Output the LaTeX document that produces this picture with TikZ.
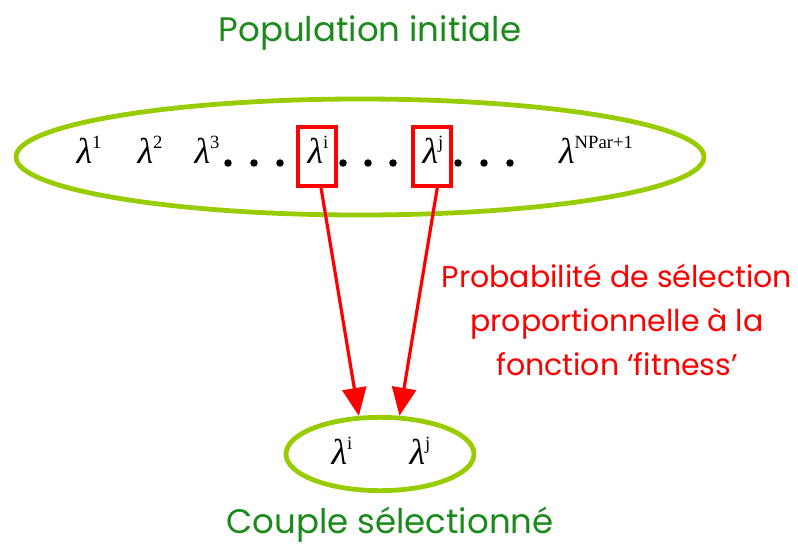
\documentclass[tikz,border=0pt]{standalone}
\usepackage{fontspec}
\setmainfont{Poppins}
\newfontfamily\lamfont{Liberation Serif}
\usetikzlibrary{positioning, arrows.meta, shapes.geometric, calc}
\definecolor{popgreen}{HTML}{1A8A1A}
\definecolor{ellgreen}{HTML}{99CC00}
\definecolor{selred}{HTML}{FF0000}

\newcommand{\lmb}[1]{{\lamfont\itshape λ}\raisebox{0.4em}{\lamfont\fontsize{14}{14}\selectfont #1}}

\begin{document}
\begin{tikzpicture}[
    x=0.75pt, y=-0.75pt,
    >=Stealth,
    every node/.style={inner sep=0pt},
    title/.style={font=\fontsize{25.5}{30}\selectfont, text=popgreen},
    popell/.style={
      ellipse, draw=ellgreen, line width=3.6pt, fill=none
    },
    lam/.style={anchor=base, font=\lamfont\fontsize{27}{30}\selectfont},
    pt/.style={circle, fill=black, minimum size=5.6pt},
    selbox/.style={
      rectangle, draw=selred, line width=2.6pt,
      minimum width=28.5pt, minimum height=44pt
    },
    selarr/.style={-{Triangle[length=21pt, width=18pt]}, line width=2.4pt, selred},
    note/.style={font=\fontsize{22.5}{33}\selectfont, text=selred, align=center},
  ]
  \useasboundingbox (0,0) rectangle (798,549);

  % ============ Initial population ============
  \node[title] (ttop) at (370,33) {Population initiale};
  \node[popell, minimum width=516pt, minimum height=87pt] (pop) at (360,157) {};

  \node[lam] (l1) at (89,163)  {\lmb{1}};
  \node[lam] (l2) at (150,163) {\lmb{2}};
  \node[lam] (l3) at (207,163) {\lmb{3}};
  \node[lam] (li) at (318,163) {\lmb{i}};
  \node[lam] (lj) at (433,163) {\lmb{j}};
  \node[lam] (ln) at (596,163) {\lmb{NPar+1}};

  % dots between the individuals
  \foreach \n/\x in {1/228, 2/254, 3/280, 4/343, 5/368, 6/393, 7/458, 8/484, 9/510}
    \node[pt] (d\n) at (\x,163) {};

  % ============ Selected individuals ============
  \node[selbox] (bi) at (317,156.5) {};
  \node[selbox] (bj) at (432,156.5) {};

  % ============ Selected couple ============
  \node[popell, minimum width=141pt, minimum height=55pt] (sel) at (380,454) {};
  \node[lam] (si) at (342,464) {\lmb{i}};
  \node[lam] (sj) at (420,464) {\lmb{j}};
  \node[title] (tbot) at (390,525) {Couple sélectionné};

  % ============ Selection ============
  \draw[selarr] ([xshift=3pt]bi.south) -- (sel.119);
  \draw[selarr] ([xshift=4pt]bj.south) -- (sel.63);

  \node[note] (prob) at (617,320)
    {Probabilité de sélection\\proportionnelle à la\\fonction ‘fitness’};

\end{tikzpicture}
\end{document}
